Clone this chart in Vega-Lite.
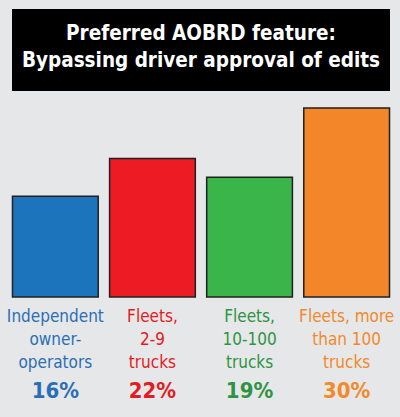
{
  "$schema": "https://vega.github.io/schema/vega-lite/v6.json",
  "background": "#e6e7e8",
  "padding": {"left": 6, "top": 9, "right": 5, "bottom": 0},
  "spacing": 9,
  "config": {"view": {"stroke": null}},
  "vconcat": [
    {
      "width": 378,
      "height": 82,
      "view": {"fill": "#000000", "stroke": null},
      "data": {"values": [{"title": "Preferred AOBRD feature:\nBypassing driver approval of edits"}]},
      "mark": {
        "type": "text",
        "lineBreak": "\n",
        "lineHeight": 26.5,
        "font": "DejaVu Sans Condensed, sans-serif",
        "fontWeight": "bold",
        "fontSize": 20.5,
        "color": "#ffffff",
        "align": "center",
        "baseline": "middle",
        "dy": -16
      },
      "encoding": {"text": {"field": "title"}}
    },
    {
      "width": 378,
      "height": 317,
      "data": {
        "values": [
          {"group": "Independent owner-operators", "label": "Independent\nowner-\noperators", "value": 16, "pct": "16%"},
          {"group": "Fleets, 2-9 trucks", "label": "Fleets,\n2-9\ntrucks", "value": 22, "pct": "22%"},
          {"group": "Fleets, 10-100 trucks", "label": "Fleets,\n10-100\ntrucks", "value": 19, "pct": "19%"},
          {"group": "Fleets, more than 100 trucks", "label": "Fleets, more\nthan 100\ntrucks", "value": 30, "pct": "30%"}
        ]
      },
      "encoding": {
        "x": {
          "field": "group",
          "type": "nominal",
          "sort": null,
          "axis": null,
          "scale": {"paddingInner": 0.117, "paddingOuter": 0.005}
        }
      },
      "layer": [
        {
          "mark": {"type": "bar", "stroke": "#231f20", "strokeWidth": 1.5, "cornerRadius": 0},
          "encoding": {
            "y": {"field": "value", "type": "quantitative", "axis": null, "scale": {"domain": [-19.05, 31.27], "nice": false, "zero": false}},
            "fill": {
              "field": "group",
              "type": "nominal",
              "legend": null,
              "scale": {
                "domain": ["Independent owner-operators", "Fleets, 2-9 trucks", "Fleets, 10-100 trucks", "Fleets, more than 100 trucks"],
                "range": ["#1c75bc", "#ed1c24", "#39b54a", "#f4862a"]
              }
            }
          }
        },
        {
          "mark": {
            "type": "text",
            "lineBreak": "\n",
            "lineHeight": 23,
            "font": "DejaVu Sans Condensed, sans-serif",
            "fontSize": 17,
            "align": "center",
            "baseline": "alphabetic",
            "dy": 25
          },
          "encoding": {
            "y": {"datum": 0, "type": "quantitative"},
            "text": {"field": "label"},
            "color": {
              "field": "group",
              "type": "nominal",
              "legend": null,
              "scale": {
                "domain": ["Independent owner-operators", "Fleets, 2-9 trucks", "Fleets, 10-100 trucks", "Fleets, more than 100 trucks"],
                "range": ["#2a6fb5", "#e31b23", "#2e9444", "#f18a2b"]
              }
            }
          }
        },
        {
          "mark": {
            "type": "text",
            "font": "DejaVu Sans Condensed, sans-serif",
            "fontWeight": "bold",
            "fontSize": 22,
            "align": "center",
            "baseline": "alphabetic",
            "dy": 101
          },
          "encoding": {
            "y": {"datum": 0, "type": "quantitative"},
            "text": {"field": "pct"},
            "color": {"field": "group", "type": "nominal", "legend": null}
          }
        }
      ]
    }
  ]
}
